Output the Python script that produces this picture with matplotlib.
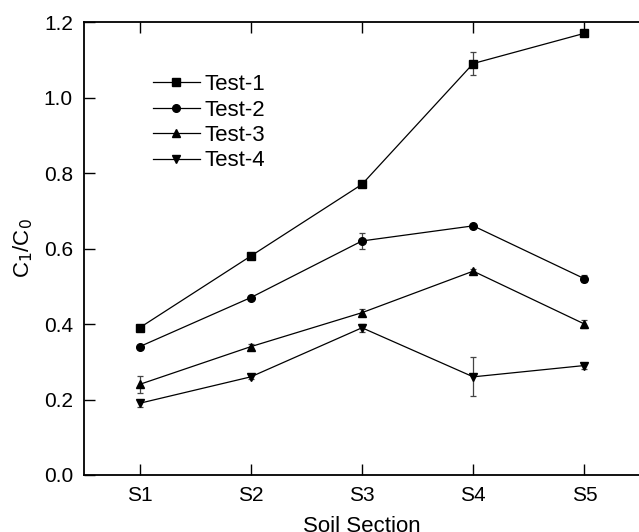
import matplotlib
matplotlib.use("Agg")
import matplotlib.pyplot as plt
from matplotlib.lines import Line2D

sections = ["S1", "S2", "S3", "S4", "S5"]
test1 = [0.39, 0.58, 0.77, 1.09, 1.17]
test1_err = [0.005, 0.005, 0.006, 0.03, 0.005]
test2 = [0.34, 0.47, 0.62, 0.66, 0.52]
test2_err = [0.005, 0.005, 0.02, 0.006, 0.01]
test3 = [0.24, 0.34, 0.43, 0.54, 0.40]
test3_err = [0.022, 0.008, 0.01, 0.006, 0.01]
test4 = [0.19, 0.26, 0.39, 0.26, 0.29]
test4_err = [0.01, 0.006, 0.01, 0.052, 0.008]

plt.rcParams['font.family'] = ['Liberation Sans', 'DejaVu Sans']

fig = plt.figure(figsize=(6.39, 5.32), dpi=100)
ax = fig.add_axes([84/639, 57/532, 556/639, 453/532])

x = list(range(1, len(sections) + 1))
series = [(test1, test1_err, 's', 'Test-1'),
          (test2, test2_err, 'o', 'Test-2'),
          (test3, test3_err, '^', 'Test-3'),
          (test4, test4_err, 'v', 'Test-4')]
handles = []
for vals, errs, m, lab in series:
    ax.errorbar(x, vals, yerr=errs, color='black', ecolor='#444444', elinewidth=0.9,
                capsize=2.5, capthick=0.9, marker=m, markersize=5.5, linewidth=0.9)
    handles.append(Line2D([], [], color='black', marker=m, markersize=5.5,
                          linewidth=0.9, label=lab))

ax.set_xlim(0.5, 5.5)
ax.set_ylim(0, 1.2)
ax.set_xticks(x)
ax.set_xticklabels(sections)
ax.set_yticks([0.0, 0.2, 0.4, 0.6, 0.8, 1.0, 1.2])
ax.set_yticklabels(["0.0", "0.2", "0.4", "0.6", "0.8", "1.0", "1.2"])
ax.tick_params(direction='in', length=8, width=1, labelsize=15, pad=8)
ax.tick_params(top=True, bottom=True, left=True, right=False)
ax.tick_params(axis='x', which='major', top=True, labeltop=False)
for s in ['left', 'bottom', 'top']:
    ax.spines[s].set_linewidth(1.3)
ax.spines['right'].set_visible(False)

ax.set_xlabel("Soil Section", fontsize=16, labelpad=8)
ax.set_ylabel("C$_1$/C$_0$", fontsize=16, labelpad=6)

leg = ax.legend(handles=handles, loc='upper left', bbox_to_anchor=(0.124, 0.885),
                frameon=False, fontsize=16, handlelength=2.1, handletextpad=0.22,
                labelspacing=0.2, borderaxespad=0, borderpad=0)

fig.savefig("out.png", dpi=100)
